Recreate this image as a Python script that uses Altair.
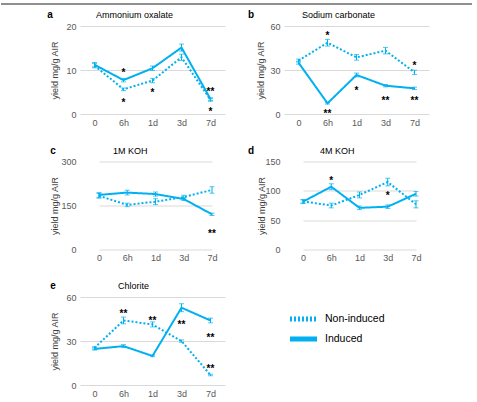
import altair as alt
import pandas as pd

BLUE = "#00B0F0"
FONT = "Liberation Sans"

times = ["0", "6h", "1d", "3d", "7d"]
series_names = ["Non-induced", "Induced"]

# Yield (mg/g AIR) per fraction; *_err are error-bar half widths
ao_induced = [11.2, 7.7, 10.4, 15.1, 3.4]
ao_induced_err = [0.5, 0.4, 0.5, 0.8, 0.3]
ao_non = [11.0, 5.6, 7.6, 12.9, 3.2]
ao_non_err = [0.5, 0.3, 0.5, 0.7, 0.3]

sc_induced = [35.0, 7.3, 26.6, 19.3, 17.5]
sc_induced_err = [1.0, 0.5, 1.3, 0.8, 0.8]
sc_non = [36.4, 48.6, 38.6, 43.2, 28.4]
sc_non_err = [1.0, 2.3, 1.9, 2.2, 1.5]

k1_induced = [186, 194, 189, 172, 120]
k1_induced_err = [8, 8, 7, 5, 4]
k1_non = [183, 152, 163, 179, 203]
k1_non_err = [8, 6, 10, 6, 11]

k4_induced = [81.6, 107, 71, 73, 95]
k4_induced_err = [3, 5, 3, 3, 4]
k4_non = [82, 75, 93, 115, 77]
k4_non_err = [3, 4, 5, 6.5, 6]

cl_induced = [24.6, 26.5, 19.8, 52.7, 44.0]
cl_induced_err = [0.8, 1.0, 0.5, 2.7, 1.6]
cl_non = [25.3, 44.0, 41.3, 29.9, 6.8]
cl_non_err = [0.8, 2.3, 1.7, 0.8, 0.5]

# Significance markers: time point, height (in data units), label
ao_star_time = ["6h", "6h", "1d", "7d", "7d"]
ao_star_y = [9.6, 2.8, 5.1, 5.3, 0.9]
ao_star_text = ["*", "*", "*", "**", "*"]

sc_star_time = ["6h", "6h", "1d", "3d", "7d", "7d"]
sc_star_y = [54, 1, 17, 10, 34, 10]
sc_star_text = ["*", "**", "*", "**", "*", "**"]

k1_star_time = ["7d"]
k1_star_y = [59]
k1_star_text = ["**"]

k4_star_time = ["6h", "3d"]
k4_star_y = [120, 93]
k4_star_text = ["*", "*"]

cl_star_time = ["6h", "1d", "3d", "7d", "7d"]
cl_star_y = [49.5, 45, 42, 33, 12]
cl_star_text = ["**", "**", "**", "**", "**"]

W, H = 145, 88


def label(text, x, y, size, weight="normal", align="left"):
    return alt.Chart(pd.DataFrame({"t": [text]})).mark_text(
        font=FONT, fontSize=size, fontWeight=weight, color="black",
        align=align, baseline="middle"
    ).encode(x=alt.value(x), y=alt.value(y), text="t:N")


def make_panel(letter, name, ind, ind_err, non, non_err,
               st_time, st_y, st_text, y_max, y_ticks,
               title_dx, letter_x, ytitle_x, x_range=None, top_rule=False):
    rows = []
    for s, vals, errs in (("Induced", ind, ind_err), ("Non-induced", non, non_err)):
        for t, v, e in zip(times, vals, errs):
            rows.append({"time": t, "series": s, "value": v, "lo": v - e, "hi": v + e})
    df = pd.DataFrame(rows)
    stars = pd.DataFrame({"time": st_time, "value": st_y, "label": st_text})

    if x_range is None:
        xscale = alt.Scale(type="point", domain=times, padding=0.5)
    else:
        xscale = alt.Scale(type="point", domain=times, range=x_range, padding=0)
    x = alt.X("time:N", scale=xscale,
              axis=alt.Axis(title=None, labelAngle=0, ticks=False, domain=False,
                            grid=False, labelPadding=4))
    yscale = alt.Scale(domain=[0, y_max], nice=False, zero=True)
    yaxis = alt.Axis(values=y_ticks, title="yield mg/g AIR", titleX=ytitle_x,
                     titleY=H / 2, titleAngle=-90, titleAlign="center",
                     titleBaseline="middle", ticks=False, domain=False,
                     labelPadding=4, grid=True)

    base = alt.Chart(df).encode(x=x)
    lines = base.mark_line(color=BLUE, strokeWidth=2).encode(
        y=alt.Y("value:Q", scale=yscale, axis=yaxis),
        strokeDash=alt.StrokeDash("series:N",
                                  scale=alt.Scale(domain=series_names, range=[[2, 2], [1, 0]]),
                                  legend=None),
    )
    bars = base.mark_rule(color=BLUE, strokeWidth=1).encode(
        y=alt.Y("lo:Q", scale=yscale, axis=yaxis), y2="hi:Q")
    cap_lo = base.mark_tick(color=BLUE, size=5, thickness=1).encode(
        y=alt.Y("lo:Q", scale=yscale, axis=yaxis))
    cap_hi = base.mark_tick(color=BLUE, size=5, thickness=1).encode(
        y=alt.Y("hi:Q", scale=yscale, axis=yaxis))
    star_text = alt.Chart(stars).mark_text(
        font=FONT, fontSize=10, fontWeight="bold", color="black", dy=1.5
    ).encode(x=x, y=alt.Y("value:Q", scale=yscale, axis=yaxis), text="label:N")

    layers = [lines, bars, cap_lo, cap_hi, star_text,
              label(letter, letter_x, -11, 10, "bold", "center"),
              label(name, title_dx, -11, 9)]
    if top_rule:
        # frame line across the top of the figure
        layers.append(
            alt.Chart(pd.DataFrame({"k": [0]})).mark_rule(color="#8f8f8f", strokeWidth=2)
            .encode(x=alt.value(-79), x2=alt.value(392), y=alt.value(-22))
        )
    return alt.layer(*layers).properties(width=W, height=H)


pa = make_panel("a", "Ammonium oxalate", ao_induced, ao_induced_err, ao_non, ao_non_err,
                ao_star_time, ao_star_y, ao_star_text, 20, [0, 10, 20],
                16, -30, -26, top_rule=True)
pb = make_panel("b", "Sodium carbonate", sc_induced, sc_induced_err, sc_non, sc_non_err,
                sc_star_time, sc_star_y, sc_star_text, 60, [0, 30, 60],
                18, -33, -24)
pc = make_panel("c", "1M KOH", k1_induced, k1_induced_err, k1_non, k1_non_err,
                k1_star_time, k1_star_y, k1_star_text, 300, [0, 150, 300],
                33, -27, -26, x_range=[19, 132])
pd_ = make_panel("d", "4M KOH", k4_induced, k4_induced_err, k4_non, k4_non_err,
                 k4_star_time, k4_star_y, k4_star_text, 150, [0, 50, 100, 150],
                 36, -33, -23, x_range=[19, 132])
pe = make_panel("e", "Chlorite", cl_induced, cl_induced_err, cl_non, cl_non_err,
                cl_star_time, cl_star_y, cl_star_text, 60, [0, 30, 60],
                38, -27, -26)

# Key for the two treatments
key_df = pd.DataFrame({"series": series_names})
key_y = alt.Y("series:N",
              scale=alt.Scale(type="point", domain=series_names, range=[22, 42], padding=0),
              axis=None)
key_lines = alt.Chart(key_df).mark_rule(color=BLUE, strokeWidth=5).encode(
    x=alt.value(6), x2=alt.value(33), y=key_y,
    strokeDash=alt.StrokeDash("series:N",
                              scale=alt.Scale(domain=series_names, range=[[5, 5], [1, 0]]),
                              legend=None),
)
key_text = alt.Chart(key_df).mark_text(
    font=FONT, fontSize=10.5, color="black", align="left", baseline="middle"
).encode(x=alt.value(41), y=key_y, text="series:N")
key = alt.layer(key_lines, key_text).properties(width=W, height=H)

chart = alt.concat(
    pa, pb, pc, pd_, pe, key, columns=2,
    spacing=alt.RowColnumber(row=47.5, column=59), bounds="flush",
).properties(
    padding={"left": 0, "top": 3, "right": 0, "bottom": 0}
).configure(font=FONT).configure_view(stroke=None).configure_axis(
    labelFont=FONT, labelFontSize=9, labelColor="#595959",
    titleFont=FONT, titleFontSize=9, titleColor="#404040", titleFontWeight="normal",
    gridColor="#d9d9d9", gridWidth=1,
)

chart.save("out.html", embed_options={"renderer": "svg", "actions": False})
